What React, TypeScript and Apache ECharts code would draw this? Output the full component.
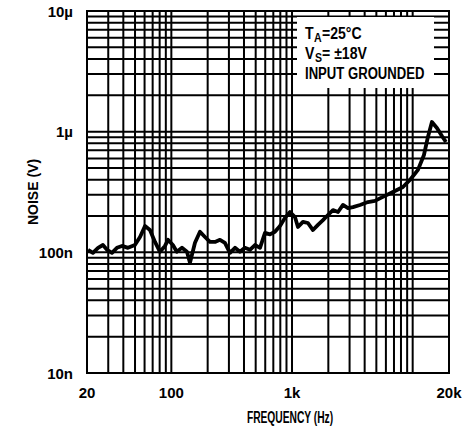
import React, { useEffect, useRef } from 'react';
import * as echarts from 'echarts';

const freqHz = [20.4, 22.4, 24.7, 27.1, 29.3, 32.2, 35.4, 39, 43.7, 49.9, 55, 60.5, 66.5, 73.2, 80.5, 88.6, 93.8, 103, 111, 122.5, 134.7, 142.7, 157, 172.7, 190, 209, 230, 253, 278, 306, 337, 370, 407, 448, 493, 543, 597, 657, 722, 795, 874, 962, 1058, 1120, 1232, 1355, 1492, 1641, 1805, 1986, 2185, 2405, 2645, 2910, 3200, 3660, 4260, 4865, 5670, 6860, 8305, 9490, 11060, 12400, 13380, 14440, 15890, 17480, 18870];
const noiseNV = [105, 99, 109, 115, 105, 99, 109, 113, 109, 115, 134, 165, 153, 122, 101, 113, 127, 115, 101, 109, 101, 82, 120, 148, 134, 122, 122, 127, 120, 99, 109, 101, 109, 105, 115, 109, 145, 141, 148, 165, 193, 216, 196, 162, 179, 175, 153, 169, 185, 204, 224, 216, 247, 233, 237, 247, 261, 267, 288, 316, 348, 398, 482, 641, 904, 1203, 1073, 921, 821];

const xGridHz = [30, 40, 50, 60, 70, 80, 90, 100, 200, 300, 400, 500, 600, 700, 800, 900, 1000, 2000, 3000, 4000, 5000, 6000, 7000, 8000, 9000, 10000];
const yGridV = [2e-8, 3e-8, 4e-8, 5e-8, 6e-8, 7e-8, 8e-8, 9e-8, 1e-7, 2e-7, 3e-7, 4e-7, 5e-7, 6e-7, 7e-7, 8e-7, 9e-7, 1e-6, 2e-6, 3e-6, 4e-6, 5e-6, 6e-6, 7e-6, 8e-6, 9e-6];

const X_MIN = 20;
const X_MAX = 20000;
const Y_MIN = 1e-8;
const Y_MAX = 1e-5;

const xTickValues = [20, 100, 1000, 20000];
const xTickLabels = ['20', '100', '1k', '20k'];
const yTickValues = [1e-8, 1e-7, 1e-6, 1e-5];
const yTickLabels = ['10n', '100n', '1\u00b5', '10\u00b5'];

const FONT = "'Liberation Sans', Arial, sans-serif";

function findLabel(v: number, vals: number[], labels: string[]) {
  for (let i = 0; i < vals.length; i++) {
    if (Math.abs(Math.log10(v) - Math.log10(vals[i])) < 0.01) return labels[i];
  }
  return '';
}

export default function App() {
  const ref = useRef<HTMLDivElement>(null);
  useEffect(() => {
    document.body.style.margin = '0';
    const chart = echarts.init(ref.current!, null, { renderer: 'svg' });
    const data = freqHz.map((f, i) => [f, noiseNV[i] * 1e-9]);
    const labelStyle = { color: '#000', fontSize: 15, fontFamily: FONT, fontWeight: 'bold' as const };
    const gridLine = (pts: number[][]) => ({
      type: 'line', data: pts, z: 1, silent: true, symbol: 'none',
      lineStyle: { color: '#000', width: 2 },
    });
    const gridSeries = [
      ...xGridHz.map((x) => gridLine([[x, Y_MIN], [x, Y_MAX]])),
      ...yGridV.map((y) => gridLine([[X_MIN, y], [X_MAX, y]])),
    ];
    const t = (text: string, x: number, y: number, size: number, sx: number, extra: any = {}) => ({
      type: 'text', z: 101, x, y, scaleX: sx, ...extra,
      style: { text, font: `bold ${size}px ${FONT}`, fill: '#000', ...(extra.style || {}) },
    });
    chart.setOption({
      animation: false,
      backgroundColor: '#fff',
      grid: { left: 87, top: 11, right: 20, bottom: 58, show: true, borderColor: '#000', borderWidth: 2, backgroundColor: 'transparent' },
      xAxis: {
        type: 'log', logBase: 10, min: X_MIN, max: X_MAX,
        axisLine: { show: true, lineStyle: { color: '#000', width: 2 } },
        axisTick: { show: false },
        splitLine: { show: false },
        axisLabel: { ...labelStyle, margin: 12, showMinLabel: true, showMaxLabel: true, formatter: (v: number) => findLabel(v, xTickValues, xTickLabels) },
      },
      yAxis: {
        type: 'log', logBase: 10, min: Y_MIN, max: Y_MAX,
        axisLine: { show: true, lineStyle: { color: '#000', width: 2 } },
        axisTick: { show: false },
        splitLine: { show: false },
        axisLabel: { ...labelStyle, margin: 14, formatter: (v: number) => findLabel(v, yTickValues, yTickLabels) },
      },
      series: [
        ...gridSeries,
        {
          type: 'line', data, z: 5, symbol: 'none', smooth: false,
          lineStyle: { color: '#000', width: 3.8, join: 'round' },
        },
      ],
      graphic: [
        { type: 'rect', z: 100, shape: { x: 297, y: 17, width: 137, height: 71 }, style: { fill: '#fff' } },
        t('T', 305, 25, 16, 0.88),
        t('A', 314, 32, 12, 0.88),
        t('=25\u00b0C', 322, 25, 16, 0.88),
        t('V', 305, 45, 16, 0.88),
        t('S', 315, 52, 12, 0.88),
        t('= \u00b118V', 322, 45, 16, 0.88),
        t('INPUT GROUNDED', 305, 66, 16, 0.82),
        t('FREQUENCY (Hz)', 290, 418, 16, 0.64, { style: { align: 'center', verticalAlign: 'middle' } }),
        t('NOISE (V)', 33, 192, 14, 1, { rotation: Math.PI / 2, style: { align: 'center', verticalAlign: 'middle' } }),
      ],
    });
    return () => chart.dispose();
  }, []);
  return <div ref={ref} style={{ position: 'fixed', left: 0, top: 0, width: 469, height: 431 }} />;
}
